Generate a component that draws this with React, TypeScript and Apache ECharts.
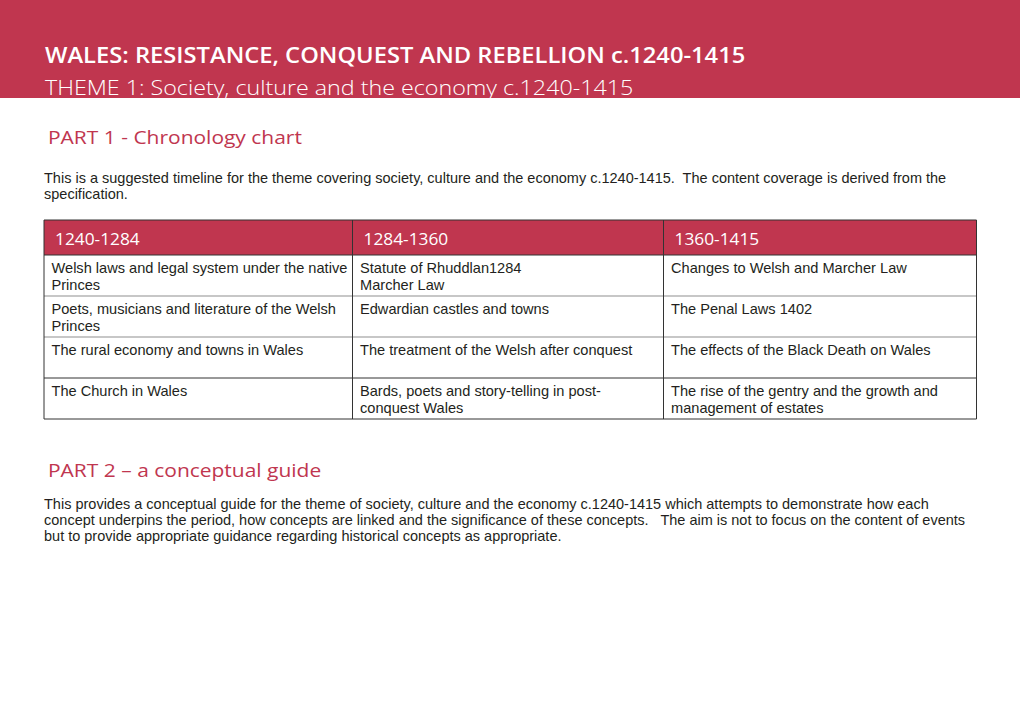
import React, { useEffect, useRef } from "react";
import * as echarts from "echarts";

const titleMain = "WALES: RESISTANCE, CONQUEST AND REBELLION c.1240-1415";
const titleSub = "THEME 1: Society, culture and the economy c.1240-1415";
const part1Heading = "PART 1 - Chronology chart";
const part1Intro = [
  "This is a suggested timeline for the theme covering society, culture and the economy c.1240-1415.  The content coverage is derived from the",
  "specification.",
];
const periods = ["1240-1284", "1284-1360", "1360-1415"];
const col1240 = [
  "Welsh laws and legal system under the native\nPrinces",
  "Poets, musicians and literature of the Welsh\nPrinces",
  "The rural economy and towns in Wales",
  "The Church in Wales",
];
const col1284 = [
  "Statute of Rhuddlan1284\nMarcher Law",
  "Edwardian castles and towns",
  "The treatment of the Welsh after conquest",
  "Bards, poets and story-telling in post-\nconquest Wales",
];
const col1360 = [
  "Changes to Welsh and Marcher Law",
  "The Penal Laws 1402",
  "The effects of the Black Death on Wales",
  "The rise of the gentry and the growth and\nmanagement of estates",
];
const part2Heading = "PART 2 \u2013 a conceptual guide";
const part2Intro = [
  "This provides a conceptual guide for the theme of society, culture and the economy c.1240-1415 which attempts to demonstrate how each",
  "concept underpins the period, how concepts are linked and the significance of these concepts.   The aim is not to focus on the content of events",
  "but to provide appropriate guidance regarding historical concepts as appropriate.",
];

const RED = "#c0364f";
const INK = "#231f20";
const HEAD_FONT = "'Open Sans', Lato, sans-serif";
const BODY_FONT = "'Liberation Sans', Arial, sans-serif";

function txt(x: number, y: number, text: string, opts: any) {
  return {
    type: "text",
    x,
    y,
    scaleX: opts.scaleX || 1,
    silent: true,
    style: {
      text,
      fill: opts.fill || INK,
      fontSize: opts.fontSize,
      fontFamily: opts.fontFamily || BODY_FONT,
      fontWeight: opts.fontWeight || "normal",
      align: "left",
      verticalAlign: "middle",
      textAlign: "left",
      textVerticalAlign: "middle",
      lineHeight: opts.lineHeight,
    },
  };
}

export default function App() {
  const ref = useRef<HTMLDivElement>(null);
  useEffect(() => {
    document.body.style.margin = "0";
    const chart = echarts.init(ref.current!, null, { renderer: "svg" });
    const els: any[] = [];
    // header band
    els.push({ type: "rect", shape: { x: 0, y: 0, width: 1020, height: 98 }, style: { fill: RED }, silent: true });
    els.push(txt(45, 55.5, titleMain, { fill: "#ffffff", fontSize: 21, fontFamily: HEAD_FONT, fontWeight: 600, scaleX: 1.13 }));
    els.push(txt(45, 87, titleSub, { fill: "#ffffff", fontSize: 20.5, fontFamily: HEAD_FONT, fontWeight: 300, scaleX: 1.135 }));

    els.push(txt(48, 137.5, part1Heading, { fill: RED, fontSize: 18, fontFamily: HEAD_FONT, fontWeight: 500, scaleX: 1.165 }));
    part1Intro.forEach((l, i) => els.push(txt(44, 177.5 + i * 16.5, l, { fontSize: 14.5 })));

    // table
    const colX = [44, 352.5, 663.5, 976.5];
    const rowY = [220, 255, 296, 337, 378, 419];
    els.push({ type: "rect", shape: { x: colX[0], y: rowY[0], width: colX[3] - colX[0], height: rowY[1] - rowY[0] }, style: { fill: RED }, silent: true });
    periods.forEach((p, i) =>
      els.push(txt(colX[i] + 11, 238.5, p, { fill: "#ffffff", fontSize: 16.5, fontFamily: HEAD_FONT, fontWeight: 500, scaleX: 1.05 }))
    );
    const cols = [col1240, col1284, col1360];
    cols.forEach((col, c) =>
      col.forEach((cell, r) =>
        els.push(txt(colX[c] + 7.5, rowY[r + 1] + 12.5 + (cell.includes("\n") ? 8.5 : 0), cell, { fontSize: 14.6, lineHeight: 17 }))
      )
    );
    // horizontal lines
    const hColors = ["#333333", "#333333", "#8f8f8f", "#8f8f8f", "#333333", "#333333"];
    rowY.forEach((y, i) =>
      els.push({ type: "line", shape: { x1: colX[0], y1: y, x2: colX[3], y2: y }, style: { stroke: hColors[i], lineWidth: 1 }, silent: true })
    );
    colX.forEach((x) =>
      els.push({ type: "line", shape: { x1: x, y1: rowY[0], x2: x, y2: rowY[5] }, style: { stroke: "#333333", lineWidth: 1 }, silent: true })
    );

    els.push(txt(48, 470, part2Heading, { fill: RED, fontSize: 18, fontFamily: HEAD_FONT, fontWeight: 500, scaleX: 1.165 }));
    part2Intro.forEach((l, i) => els.push(txt(44, 503.5 + i * 16, l, { fontSize: 14.5 })));

    chart.setOption({ animation: false, graphic: { elements: els } });
    return () => chart.dispose();
  }, []);
  return <div ref={ref} style={{ width: 1020, height: 721, position: "absolute", left: 0, top: 0, background: "#fff" }} />;
}
